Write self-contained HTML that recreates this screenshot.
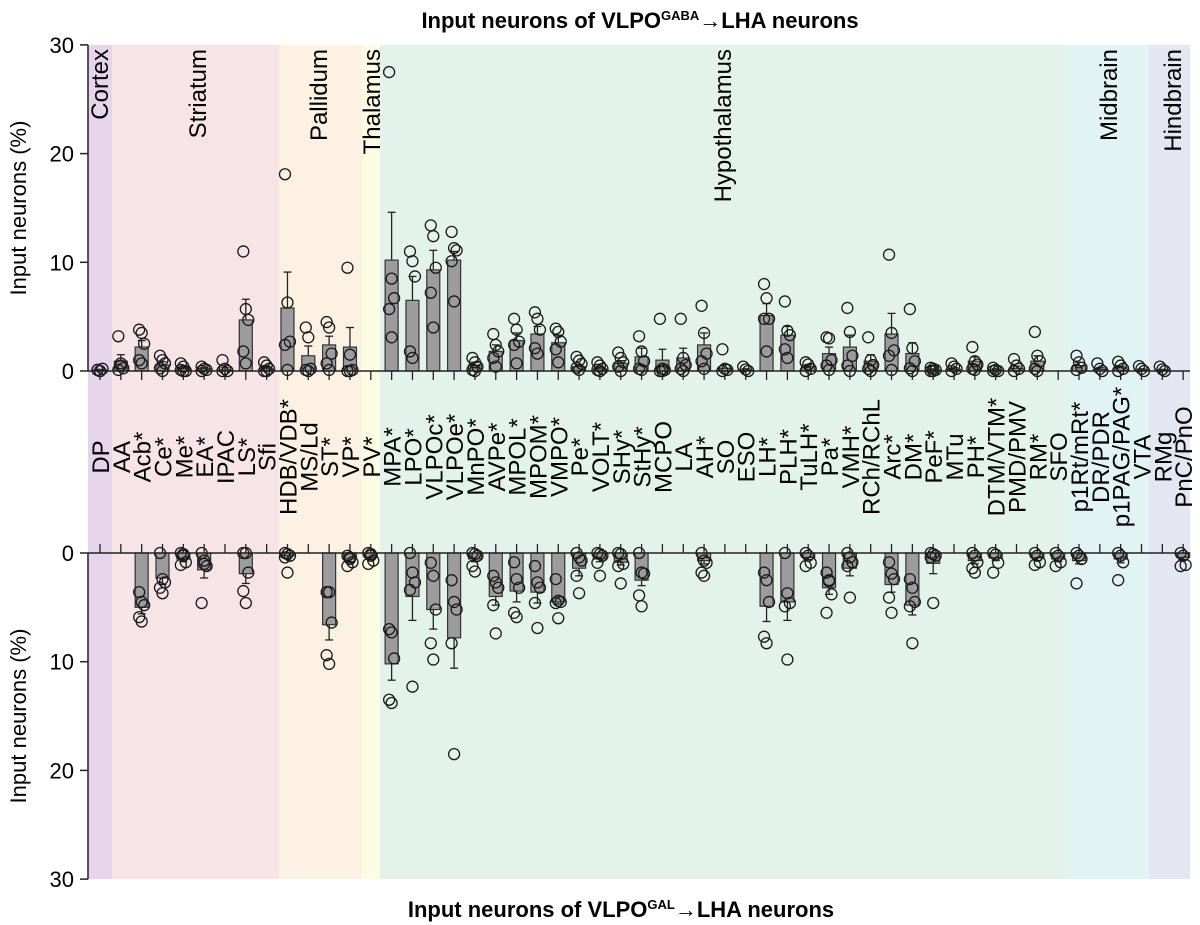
<!DOCTYPE html>
<html><head><meta charset="utf-8"><style>
body{margin:0;background:#fff;}
svg{display:block;font-family:"Liberation Sans",Arial,sans-serif;}
</style></head><body>
<svg id="chart" width="1200" height="925" viewBox="0 0 1200 925" xmlns="http://www.w3.org/2000/svg">
<g id="bg"></g>
<g id="marks"></g>
<g id="axes"></g>
<text x="640" y="28" text-anchor="middle" font-size="22" font-weight="bold">Input neurons of VLPO<tspan font-size="13" dy="-8">GABA</tspan><tspan dy="8">→LHA neurons</tspan></text>
<text x="621" y="917" text-anchor="middle" font-size="22" font-weight="bold">Input neurons of VLPO<tspan font-size="13" dy="-8">GAL</tspan><tspan dy="8">→LHA neurons</tspan></text>
<text transform="translate(26,208) rotate(-90)" text-anchor="middle" font-size="22">Input neurons (%)</text>
<text transform="translate(26,716) rotate(-90)" text-anchor="middle" font-size="22">Input neurons (%)</text>
</svg>
<script>
const categories=["DP","AA","Acb*","Ce*","Me*","EA*","IPAC","LS*","Sfi","HDB/VDB*","MS/Ld","ST*","VP*","PV*","MPA*","LPO*","VLPOc*","VLPOe*","MnPO*","AVPe*","MPOL*","MPOM*","VMPO*","Pe*","VOLT*","SHy*","StHy*","MCPO","LA","AH*","SO","ESO","LH*","PLH*","TuLH*","Pa*","VMH*","RCh/RChL","Arc*","DM*","PeF*","MTu","PH*","DTM/VTM*","PMD/PMV","RM*","SFO","p1Rt/mRt*","DR/PDR","p1PAG/PAG*","VTA","RMg","PnC/PnO"];
const topMean=[0.1,0.9,2.2,0.55,0.25,0.2,0.1,4.7,0.2,5.8,1.4,2.4,2.2,null,10.2,6.5,9.3,10.2,0.55,1.8,2.8,3.4,2.6,0.4,0.2,0.7,1.3,1.0,1.2,2.4,0.25,0.1,5.1,3.3,0.4,1.6,2.2,0.9,3.4,1.6,0.1,0.15,0.9,0.1,0.25,0.9,null,0.5,0.15,0.3,0.1,0.1,null];
const topErr=[0.15,1.5,2.8,0.85,0.4,0.3,0.3,6.6,0.35,9.1,2.3,3.2,4.0,null,14.6,8.7,11.1,11.0,0.8,2.4,3.5,4.1,3.3,0.6,0.35,0.95,2.1,2.0,2.1,3.5,0.6,0.2,6.2,4.1,0.6,2.2,3.3,1.5,5.3,2.6,0.2,0.3,1.3,0.2,0.45,1.4,null,0.8,0.3,0.45,0.2,0.15,null];
const topPts=[[0.1,0,0.2,0.1,0],[3.2,0.7,0.25,0.1,0.5],[3.8,3.5,2.5,1.0,0.7],[1.4,1.0,0.7,0.25,0],[0.7,0.4,0,0.1,0],[0.4,0.2,0.1,0],[1.0,0.2,0,0],[11.0,5.7,4.7,1.8,0.7],[0.8,0.5,0.2,0,0],[18.1,6.3,2.7,2.4,0.1],[4.0,3.1,0.2,0.1,0],[4.5,4.0,1.6,0.7,0.1],[9.5,1.5,0.1,0,0],[],[27.5,8.5,6.7,5.7,3.1],[11.0,10.1,8.7,1.8,1.2],[13.4,12.4,9.5,7.2,4.0],[12.8,11.3,11.1,10.1,6.4],[1.2,0.8,0.4,0.1,0],[3.4,2.4,1.8,1.2,0.4],[4.8,3.8,2.7,2.4,0.7],[5.4,4.8,3.8,2.1,1.6],[3.9,3.6,2.7,2.0,0.8],[1.3,0.95,0.65,0.3,0.1],[0.8,0.5,0.2,0.1,0],[1.7,1.2,0.8,0.4,0],[3.2,1.8,0.9,0.2,0.1],[4.8,0.2,0.1,0,0],[4.8,1.2,0.55,0.2,0],[6.0,3.5,1.6,0.9,0.2],[2.0,0.2,0.1,0],[0.4,0.15,0],[8.0,6.7,4.8,4.8,1.8],[6.4,3.7,3.3,2.0,1.2],[0.8,0.6,0.2,0],[3.1,3.0,1.0,0.5,0.1],[5.8,3.6,1.4,0.5,0],[3.1,1.0,0.55,0.2,0],[10.7,3.5,1.9,1.4,0.1],[5.7,2.1,0.9,0.25,0],[0.3,0.2,0.1,0,0],[0.7,0.4,0.2,0],[2.2,0.9,0.6,0.2,0.1],[0.3,0.1,0,0],[1.1,0.5,0.2,0],[3.6,1.4,0.9,0.2,0],[],[1.4,0.8,0.3,0.1],[0.7,0.2,0],[0.85,0.5,0.2,0],[0.45,0.2,0],[0.4,0.15,0],[]];
const botMean=[null,null,5.0,2.3,0.55,1.55,null,1.9,null,0.25,null,6.6,0.55,0.4,10.2,4.0,5.2,7.8,0.55,4.0,3.5,3.6,4.5,1.4,0.55,0.85,2.5,null,null,0.7,null,null,4.9,4.5,0.4,3.2,1.4,null,2.9,4.8,0.95,null,0.7,0.45,null,0.45,0.55,0.7,null,0.55,null,null,0.4];
const botErr=[null,null,5.6,2.9,0.8,2.3,null,2.8,null,0.5,null,8.0,0.8,0.6,11.7,6.2,7.0,10.6,0.8,4.8,4.5,4.6,4.7,2.1,0.8,1.1,3.0,null,null,1.0,null,null,6.3,6.2,0.6,3.8,2.1,null,3.6,5.7,1.9,null,1.0,0.7,null,0.7,0.8,1.0,null,0.9,null,null,0.6];
const botPts=[[],[],[3.6,4.5,4.8,5.9,6.3],[0,2.4,2.7,3.2,3.7],[0,0.25,0.85,1.1,0.1],[0,1.0,1.2,4.6,0.7],[],[0,0,1.8,3.5,4.6],[],[0,0.1,0.25,0.4,1.8],[],[3.6,3.6,6.4,9.4,10.2],[0.25,0.55,0.85,1.2,0.4],[0,0.25,0.7,1.0,0.1],[7.0,7.3,9.7,13.5,13.8],[0,1.8,2.7,3.4,12.3],[0.9,2.1,5.2,8.3,9.8],[2.5,4.5,5.2,8.3,18.5],[0,0.1,0.25,1.2,1.7],[2.1,2.7,3.2,4.8,7.4],[0.85,2.4,3.2,5.5,5.9],[1.2,2.7,3.2,4.6,6.9],[2.4,4.4,4.5,4.6,6.0],[0,0.4,0.7,2.1,3.7],[0,0.1,0.25,0.9,2.1],[0,0.1,1.0,1.2,2.8],[0,1.8,1.9,3.9,4.9],[],[],[0,0.7,0.9,1.8,2.1],[],[],[1.8,2.5,4.5,7.7,8.3],[0,3.7,4.6,4.9,9.8],[0,0.25,0.9,1.2],[1.8,2.5,3.8,5.5,2.6],[0,0.4,0.85,1.2,4.1],[],[0.85,1.9,2.4,4.1,5.5],[2.4,3.2,4.5,4.9,8.3],[0,0.1,0.25,0.4,4.6],[],[0,0.25,0.85,1.4,1.8],[0,0.15,0.9,1.8],[],[0,0.25,0.85,1.1],[0,0.25,0.85,1.2],[0,0.25,0.55,2.8],[],[0,0.25,0.85,2.5],[],[],[0,0.25,1.1,1.2]];
const regionNames=["Cortex","Striatum","Pallidum","Thalamus","Hypothalamus","Midbrain","Hindbrain"];
const yTicks=[0,10,20,30];

const NS="http://www.w3.org/2000/svg";
const X0=100,DX=20.83,TOP0=371,BOT0=553,PX=10.87;
function xPos(i){return X0+i*DX;}
function yTop(v){return TOP0-v*PX;}
function yBot(v){return BOT0+v*PX;}
function mk(tag,attrs,parent){const e=document.createElementNS(NS,tag);for(const k in attrs)e.setAttribute(k,attrs[k]);parent.appendChild(e);return e;}
const bg=document.getElementById('bg'),marks=document.getElementById('marks'),axes=document.getElementById('axes');

const regionEdges=[88,112,279,362,380,1068,1149,1190];
const regionColors=["#e6d4ea","#f7e4e7","#fdf1e4","#fcfbe4","#e3f3ec","#e1f3f2","#e4e6f2"];
const regionLabelX=[108,206,327,380,731,1117,1181];
regionNames.forEach((n,i)=>{
  const r=mk('rect',{x:regionEdges[i],y:45,width:regionEdges[i+1]-regionEdges[i],height:834,fill:regionColors[i]},bg);
  
  
  const t=mk('text',{transform:`translate(${regionLabelX[i]},49) rotate(-90)`,'text-anchor':'end','font-size':24},bg);
  t.textContent=n;
  
  
});

categories.forEach((c,i)=>{
  const t=mk('text',{transform:`translate(${xPos(i)+9},457) rotate(-90)`,'text-anchor':'middle','font-size':24},axes);
  t.textContent=c;
  
  
});

function drawPanel(means,errs,pts,yf,dir,name){
  means.forEach((m,i)=>{
    if(m===null)return;
    const x=xPos(i),y0=yf(0),y1=yf(m),ye=yf(errs[i]);
    const err=mk('line',{x1:x,x2:x,y1:y1,y2:ye,stroke:'#222','stroke-width':1.3},marks);
    
    
    const cap=mk('line',{x1:x-4,x2:x+4,y1:ye,y2:ye,stroke:'#222','stroke-width':1.3},marks);
    
    
    const b=mk('rect',{x:x-6.5,y:Math.min(y0,y1),width:13,height:Math.abs(y1-y0),fill:'#9c9c9e',stroke:'#333','stroke-width':1.2},marks);
    
    
    pts[i].forEach((p,j)=>{
      const c=mk('circle',{cx:x+((j%3)-1)*2.5,cy:yf(p),r:5.5,fill:'none',stroke:'#1a1a1a','stroke-width':1.3},marks);
      
      
    });
  });
  const y0=yf(0),y30=yf(30);
  const va=mk('line',{x1:88,x2:88,y1:Math.min(y0,y30),y2:Math.max(y0,y30),stroke:'#222','stroke-width':1.5},axes);
  
  
  const ha=mk('line',{x1:88,x2:1190,y1:y0,y2:y0,stroke:'#222','stroke-width':1.5},axes);
  
  
  categories.forEach((c,i)=>{
    const tk=mk('line',{x1:xPos(i),x2:xPos(i),y1:y0,y2:y0+dir*9,stroke:'#222','stroke-width':1.3},axes);
    
    
  });
  yTicks.forEach(v=>{
    const yy=yf(v);
    const tk=mk('line',{x1:80,x2:88,y1:yy,y2:yy,stroke:'#222','stroke-width':1.5},axes);
    
    
    const t=mk('text',{x:74,y:yy+8,'text-anchor':'end','font-size':22},axes);
    t.textContent=v;
    
    
  });
}
drawPanel(topMean,topErr,topPts,yTop,1,'gaba');
drawPanel(botMean,botErr,botPts,yBot,-1,'gal');
</script>
</body></html>
